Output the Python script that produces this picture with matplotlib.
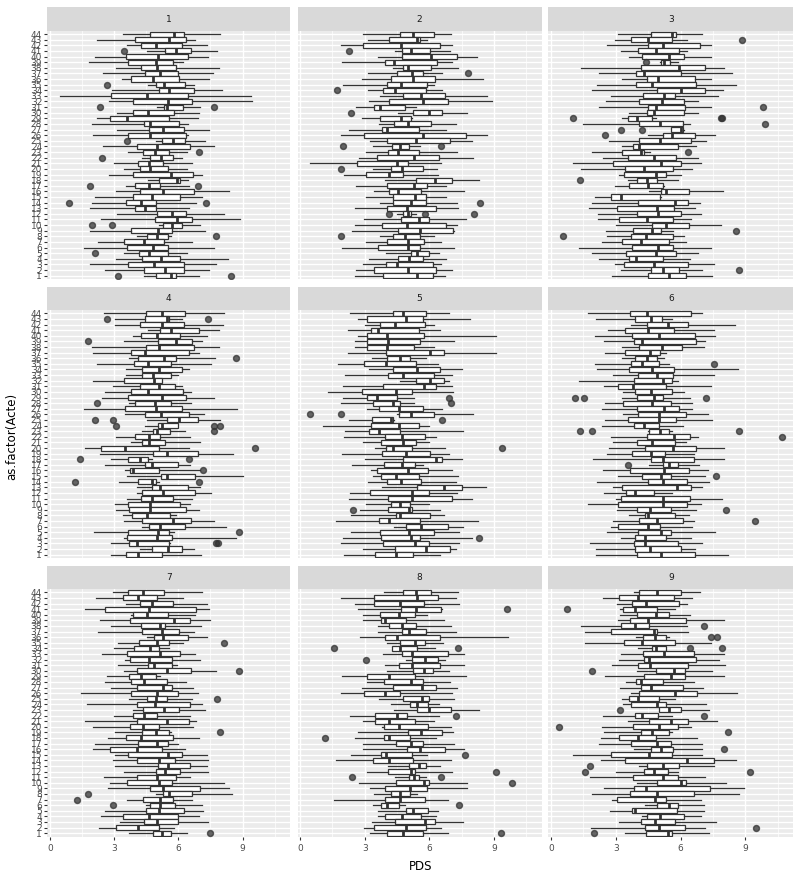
import matplotlib
matplotlib.use("Agg")
import matplotlib.pyplot as plt

# rows in every *_stats list go from Acte 44 (top) down to Acte 1 (bottom)
actes = list(range(44, 0, -1))

# (whisker low, q1, median, q3, whisker high)
p1_stats = [
    (3.4, 4.7, 5.8, 6.25, 7.95), (2.2, 4.0, 5.55, 6.35, 6.8), (3.6, 4.25, 4.95, 6.15, 7.35),
    (4.55, 5.4, 5.9, 6.6, 7.8), (2.1, 3.55, 5.05, 6.45, 7.4), (1.85, 3.65, 4.95, 5.75, 6.2),
    (3.1, 4.25, 5.0, 5.9, 7.9), (2.5, 4.45, 5.15, 6.0, 7.6), (3.35, 3.8, 4.8, 6.05, 7.45),
    (4.6, 4.95, 5.35, 6.3, 6.75), (2.9, 5.1, 5.55, 6.75, 8.05), (0.5, 2.85, 4.55, 6.45, 9.4),
    (2.75, 3.9, 5.5, 6.65, 9.45), (5.0, 5.35, 5.45, 6.2, 7.0), (3.15, 3.9, 4.6, 5.8, 6.95),
    (2.2, 2.8, 3.6, 5.55, 6.9), (1.95, 4.4, 4.7, 6.05, 6.45), (3.15, 4.65, 5.3, 6.25, 7.45),
    (2.0, 3.65, 4.7, 6.35, 6.45), (4.95, 5.25, 5.75, 6.3, 7.25), (2.5, 4.05, 5.0, 6.55, 7.65),
    (3.65, 4.35, 4.9, 5.55, 6.4), (4.3, 4.7, 5.2, 5.75, 6.15), (3.0, 4.1, 4.65, 5.3, 6.65),
    (3.45, 4.2, 4.7, 5.5, 6.4), (2.75, 3.9, 5.65, 6.7, 7.1), (4.6, 5.1, 5.95, 6.1, 6.45),
    (3.55, 4.0, 4.65, 5.15, 6.5), (3.1, 4.2, 5.3, 6.75, 8.35), (2.1, 3.9, 4.75, 6.1, 7.1),
    (1.95, 3.55, 4.25, 4.95, 6.85), (1.9, 4.0, 4.45, 4.95, 6.5), (3.15, 5.0, 5.7, 6.35, 8.15),
    (2.4, 4.9, 5.95, 6.65, 8.9), (5.1, 5.3, 5.7, 6.15, 7.0), (1.9, 3.8, 5.05, 5.7, 7.25),
    (4.05, 4.55, 5.0, 5.5, 5.65), (2.25, 3.45, 4.4, 5.35, 6.65), (1.6, 3.6, 4.8, 5.5, 7.65),
    (3.45, 4.15, 4.65, 5.5, 6.4), (3.1, 4.3, 5.2, 6.1, 8.3), (1.9, 3.65, 4.85, 6.25, 7.75),
    (2.6, 4.4, 5.4, 6.25, 7.45), (4.4, 4.95, 5.65, 5.9, 6.95),
]
p1_out = [(41, 3.45), (35, 2.65), (31, 2.35), (31, 7.65), (25, 3.6), (23, 6.95), (22, 2.45),
          (17, 1.9), (17, 6.9), (14, 0.9), (14, 7.3), (10, 1.95), (10, 2.9), (8, 7.75),
          (5, 2.1), (1, 3.2), (1, 8.45)]

p2_stats = [
    (2.9, 4.65, 5.25, 6.2, 7.0), (3.15, 4.15, 5.45, 5.55, 5.9), (1.9, 2.9, 4.7, 6.5, 7.05),
    (4.4, 4.75, 5.15, 6.05, 6.95), (3.6, 4.75, 6.1, 7.3, 8.2), (1.95, 3.95, 4.35, 6.35, 7.05),
    (4.3, 4.8, 5.0, 6.1, 7.35), (3.15, 4.5, 5.2, 5.7, 6.6), (2.85, 4.2, 5.25, 6.25, 8.5),
    (2.0, 4.05, 4.7, 5.9, 6.2), (3.15, 3.85, 4.4, 5.85, 6.6), (3.7, 4.8, 5.6, 6.75, 8.7),
    (3.2, 4.15, 5.7, 6.85, 8.9), (2.6, 3.45, 3.7, 4.85, 5.4), (4.55, 5.25, 6.0, 6.6, 7.75),
    (2.85, 3.7, 4.7, 5.15, 5.2), (3.65, 4.35, 5.0, 6.1, 7.25), (2.25, 3.8, 4.05, 5.5, 6.8),
    (1.9, 2.95, 5.7, 7.7, 8.7), (3.25, 4.05, 5.4, 6.95, 8.0), (3.4, 4.25, 4.65, 5.05, 5.55),
    (3.05, 4.1, 4.55, 5.5, 7.3), (2.75, 3.55, 5.3, 6.45, 8.05), (0.45, 2.65, 4.5, 5.0, 6.55),
    (3.4, 4.2, 4.75, 5.7, 6.35), (2.05, 3.05, 4.15, 4.8, 6.4), (3.95, 5.4, 6.25, 7.05, 8.3),
    (2.6, 4.05, 5.3, 5.9, 6.8), (3.45, 4.15, 4.55, 5.6, 7.6), (3.05, 4.3, 5.35, 5.85, 6.8),
    (3.7, 4.3, 5.15, 5.85, 7.3), (2.55, 4.05, 4.95, 6.3, 7.35), (4.5, 4.8, 5.0, 5.15, 5.4),
    (2.95, 4.7, 5.5, 6.0, 7.7), (2.55, 3.8, 4.95, 6.8, 7.3), (2.4, 4.55, 5.55, 7.1, 7.15),
    (3.7, 4.3, 4.85, 5.55, 6.2), (3.05, 4.05, 5.0, 5.75, 6.55), (1.95, 3.6, 5.0, 5.55, 7.15),
    (4.0, 5.15, 5.45, 6.0, 6.45), (3.2, 4.55, 5.05, 5.7, 6.8), (2.9, 4.0, 4.5, 6.15, 6.55),
    (2.6, 3.45, 5.0, 6.3, 7.05), (2.55, 3.85, 5.45, 6.15, 6.75),
]
p2_out = [(41, 2.25), (37, 7.8), (34, 1.7), (30, 2.35), (24, 2.0), (24, 6.55), (20, 1.9),
          (14, 8.35), (12, 4.15), (12, 5.8), (12, 8.1), (8, 1.9)]

p3_stats = [
    (3.1, 4.65, 5.6, 5.8, 7.0), (2.95, 3.7, 4.5, 5.6, 6.3), (2.6, 4.5, 5.2, 6.9, 7.4),
    (3.25, 4.05, 4.85, 5.95, 6.3), (3.6, 4.2, 5.45, 6.15, 7.4), (5.05, 5.1, 5.25, 5.5, 5.9),
    (1.4, 4.15, 5.95, 7.15, 8.0), (2.25, 3.95, 4.3, 6.0, 8.4), (3.3, 4.45, 4.95, 6.65, 7.4),
    (2.15, 3.95, 4.7, 6.7, 8.55), (1.9, 4.9, 6.0, 7.15, 7.95), (2.8, 4.25, 5.25, 5.75, 7.75),
    (2.55, 4.1, 5.15, 6.15, 6.8), (2.25, 4.5, 4.85, 6.2, 7.4), (3.6, 4.45, 4.75, 6.15, 6.8),
    (3.3, 3.55, 4.0, 4.7, 4.85), (1.5, 4.1, 5.05, 6.1, 6.45), (5.55, 5.55, 6.0, 6.1, 6.15),
    (4.5, 5.2, 5.6, 6.65, 7.6), (2.7, 4.1, 5.05, 6.5, 7.2), (3.3, 3.8, 4.1, 5.9, 6.7),
    (1.9, 3.3, 4.15, 4.3, 4.6), (2.4, 3.55, 4.75, 5.8, 6.8), (1.05, 2.9, 5.1, 6.0, 6.95),
    (1.4, 3.45, 4.3, 5.65, 6.55), (3.15, 3.4, 4.85, 5.35, 6.0), (3.55, 4.0, 4.45, 4.9, 5.9),
    (2.95, 3.6, 4.5, 5.2, 5.25), (4.55, 5.1, 5.35, 6.4, 7.95), (2.05, 2.8, 3.25, 5.05, 5.1),
    (1.9, 4.05, 5.75, 6.35, 6.9), (1.75, 3.05, 4.9, 5.7, 6.65), (2.2, 4.0, 4.95, 6.0, 6.95),
    (2.2, 3.15, 4.45, 5.65, 6.5), (3.0, 4.7, 5.35, 6.4, 7.85), (2.55, 3.8, 4.7, 5.1, 5.65),
    (2.6, 3.7, 4.4, 5.65, 6.15), (2.35, 3.3, 4.15, 5.45, 6.25), (1.3, 3.75, 4.95, 5.65, 7.4),
    (1.9, 3.5, 4.85, 5.8, 6.8), (2.25, 3.6, 3.95, 5.2, 6.45), (2.95, 3.4, 4.75, 6.35, 7.55),
    (3.25, 4.65, 5.2, 5.95, 7.0), (2.85, 4.5, 5.45, 6.25, 7.45),
]
p3_out = [(43, 8.85), (39, 4.4), (31, 9.8), (29, 1.05), (29, 7.85), (29, 7.9), (28, 9.9),
          (27, 3.25), (27, 4.2), (26, 2.5), (23, 6.35), (18, 1.35), (9, 8.55), (8, 0.55),
          (2, 8.7)]

p4_stats = [
    (2.55, 4.5, 5.25, 6.3, 8.15), (3.05, 4.45, 5.45, 5.55, 6.15), (3.05, 4.2, 5.25, 6.25, 8.1),
    (4.6, 5.15, 5.65, 6.95, 7.9), (3.9, 4.25, 5.0, 6.1, 7.35), (3.45, 5.05, 5.9, 6.65, 7.1),
    (1.95, 4.5, 5.1, 6.75, 7.9), (2.0, 3.8, 4.45, 6.5, 6.95), (3.7, 4.1, 5.35, 5.9, 7.7),
    (2.2, 3.95, 4.6, 5.65, 7.55), (3.55, 4.3, 5.1, 6.15, 6.5), (3.55, 4.3, 4.8, 5.65, 6.0),
    (2.0, 3.45, 4.85, 5.25, 5.25), (2.95, 4.2, 5.1, 5.85, 6.15), (2.6, 3.8, 4.6, 6.2, 6.6),
    (2.45, 3.65, 5.25, 6.35, 7.65), (3.7, 4.0, 4.9, 5.65, 6.6), (1.6, 3.5, 4.95, 6.15, 8.75),
    (3.5, 4.45, 5.2, 6.5, 7.2), (4.55, 5.45, 6.05, 6.9, 7.95), (4.45, 5.05, 5.25, 6.0, 6.0),
    (4.3, 4.8, 5.0, 5.6, 6.3), (3.1, 4.0, 4.65, 5.15, 6.55), (3.8, 4.3, 4.65, 5.4, 7.0),
    (1.65, 2.4, 3.5, 5.1, 6.5), (2.35, 4.8, 5.45, 6.9, 8.55), (2.85, 3.65, 4.2, 4.6, 4.75),
    (2.6, 4.45, 4.75, 6.0, 6.55), (3.5, 3.75, 3.9, 5.1, 7.0), (3.6, 5.2, 5.45, 6.8, 9.0),
    (3.25, 4.1, 4.75, 4.95, 5.1), (4.05, 4.75, 5.15, 6.45, 7.0), (4.05, 4.3, 5.3, 6.8, 7.55),
    (3.6, 4.25, 4.75, 5.75, 6.65), (3.05, 3.65, 4.7, 6.1, 6.55), (3.1, 3.7, 4.7, 6.35, 6.95),
    (3.4, 3.85, 4.55, 5.6, 5.9), (3.45, 4.3, 5.75, 6.6, 7.65), (4.3, 4.65, 5.15, 6.3, 8.25),
    (2.05, 3.65, 5.05, 5.55, 5.8), (3.45, 3.6, 5.0, 5.7, 8.7), (2.85, 3.7, 4.05, 5.55, 5.6),
    (4.2, 4.75, 5.5, 6.15, 6.75), (2.85, 3.55, 4.1, 5.25, 7.05),
]
p4_out = [(43, 2.65), (43, 7.4), (39, 1.8), (36, 8.7), (28, 2.2), (25, 2.1), (25, 2.95),
          (24, 3.1), (24, 7.65), (24, 7.95), (23, 7.65), (20, 9.6), (18, 1.4), (18, 6.5),
          (16, 7.15), (14, 1.2), (14, 6.95), (5, 8.85), (3, 7.75), (3, 7.85)]

p5_stats = [
    (2.3, 4.3, 4.8, 5.85, 6.9), (2.7, 3.1, 4.9, 5.7, 7.9), (3.0, 3.7, 4.4, 5.8, 6.2),
    (2.2, 3.3, 3.6, 5.5, 6.5), (2.7, 3.1, 4.05, 5.75, 9.1), (2.55, 3.1, 4.1, 5.55, 7.15),
    (2.55, 3.1, 4.05, 5.3, 6.2), (2.2, 4.0, 6.05, 6.7, 9.1), (3.35, 4.05, 4.65, 5.1, 5.85),
    (1.75, 2.95, 4.0, 5.4, 6.4), (3.2, 4.3, 5.45, 6.5, 7.5), (2.1, 4.1, 4.8, 6.2, 7.05),
    (4.65, 5.4, 6.05, 6.7, 6.9), (2.0, 3.85, 5.75, 6.3, 7.05), (1.3, 2.85, 4.45, 5.2, 7.1),
    (2.0, 3.1, 3.55, 4.5, 5.3), (1.9, 3.4, 4.3, 4.65, 5.3), (3.1, 3.65, 4.6, 5.7, 6.6),
    (4.5, 4.6, 5.15, 6.2, 8.05), (2.25, 3.35, 4.2, 4.3, 4.35), (1.05, 3.3, 4.6, 5.5, 6.0),
    (2.1, 3.2, 3.65, 4.65, 7.55), (2.05, 3.95, 4.75, 5.8, 6.3), (2.9, 3.75, 4.8, 5.4, 6.0),
    (3.5, 4.0, 4.3, 5.2, 6.75), (1.95, 3.8, 4.9, 6.05, 6.9), (3.0, 4.8, 6.3, 6.6, 7.5),
    (2.4, 3.9, 4.75, 5.35, 5.7), (3.3, 3.55, 5.0, 5.95, 7.05), (3.4, 3.75, 4.45, 5.5, 7.35),
    (3.15, 4.05, 4.7, 5.6, 7.25), (3.8, 5.45, 6.7, 7.5, 8.65), (2.3, 3.25, 5.2, 6.0, 7.3),
    (2.25, 4.1, 5.2, 7.05, 8.0), (3.05, 4.2, 4.65, 5.1, 6.0), (2.8, 4.1, 5.05, 5.2, 6.5),
    (2.35, 4.45, 4.65, 6.05, 6.7), (1.65, 3.65, 4.15, 5.55, 8.25), (4.35, 4.9, 5.6, 6.85, 7.55),
    (2.35, 3.7, 5.05, 6.2, 7.4), (2.0, 3.75, 5.15, 5.55, 8.0), (1.9, 3.85, 5.35, 6.0, 7.4),
    (2.9, 4.4, 5.85, 6.95, 7.25), (2.05, 3.5, 4.45, 5.25, 6.5),
]
p5_out = [(29, 6.9), (28, 7.0), (26, 0.45), (26, 1.9), (25, 6.6), (20, 9.4), (9, 2.45),
          (4, 8.3)]

p6_stats = [
    (1.7, 3.65, 4.45, 6.5, 7.0), (2.1, 3.9, 4.65, 5.15, 5.6), (3.7, 4.45, 5.4, 6.35, 8.5),
    (2.65, 3.45, 4.5, 5.7, 7.55), (2.05, 3.75, 5.0, 6.65, 7.6), (2.45, 3.85, 4.2, 6.7, 7.15),
    (3.3, 4.1, 5.15, 6.05, 7.1), (2.5, 3.45, 4.6, 5.05, 5.35), (3.3, 3.9, 4.45, 4.9, 5.25),
    (2.05, 3.7, 4.2, 5.0, 5.45), (2.15, 3.6, 4.7, 5.7, 8.65), (2.9, 4.05, 4.9, 5.65, 7.55),
    (1.3, 3.85, 5.2, 5.6, 5.9), (2.45, 3.1, 3.8, 5.35, 7.4), (3.35, 3.9, 4.65, 5.6, 6.15),
    (3.3, 4.0, 4.75, 5.2, 6.45), (2.5, 3.35, 4.7, 5.55, 6.55), (2.35, 4.0, 5.25, 5.95, 6.55),
    (3.35, 4.05, 5.0, 6.25, 7.25), (2.5, 3.55, 5.0, 5.8, 7.45), (2.35, 3.85, 4.3, 5.0, 6.1),
    (4.5, 4.55, 5.05, 5.45, 5.6), (2.8, 4.45, 5.7, 6.45, 6.8), (2.9, 4.0, 4.7, 5.75, 6.25),
    (2.7, 4.35, 5.65, 6.7, 8.0), (2.6, 3.75, 4.65, 5.3, 6.6), (1.95, 4.65, 5.2, 6.6, 8.0),
    (4.55, 5.2, 5.45, 5.9, 6.85), (2.4, 3.65, 5.25, 6.4, 7.25), (3.1, 4.2, 5.1, 5.55, 7.15),
    (2.15, 4.5, 5.2, 6.3, 7.3), (2.9, 3.3, 5.85, 6.5, 7.0), (2.45, 3.5, 3.9, 4.75, 5.6),
    (3.0, 3.25, 5.2, 6.45, 7.9), (1.7, 3.1, 5.2, 6.3, 6.95), (3.05, 4.0, 4.6, 5.55, 6.7),
    (3.6, 4.35, 4.5, 5.75, 6.4), (2.9, 4.1, 4.9, 6.1, 6.6), (2.8, 3.1, 4.5, 5.05, 6.55),
    (2.6, 4.05, 5.1, 5.55, 7.6), (3.25, 3.9, 4.35, 5.35, 6.5), (1.8, 3.85, 4.35, 5.9, 7.0),
    (2.1, 3.9, 4.6, 6.0, 6.65), (2.1, 4.0, 5.1, 6.65, 8.2),
]
p6_out = [(35, 7.55), (29, 1.1), (29, 1.55), (29, 7.2), (23, 1.35), (23, 1.9), (23, 8.7),
          (22, 10.7), (17, 3.55), (15, 7.65), (9, 8.1), (7, 9.45)]

p7_stats = [
    (2.95, 3.65, 4.35, 5.35, 7.1), (2.15, 3.4, 4.1, 5.0, 6.2), (3.55, 4.2, 4.75, 5.75, 7.35),
    (1.65, 2.6, 4.65, 6.85, 7.45), (3.8, 3.9, 4.55, 5.5, 6.8), (2.35, 3.75, 5.8, 6.55, 7.5),
    (2.85, 4.25, 5.15, 5.4, 7.05), (2.25, 4.3, 5.25, 6.05, 6.75), (4.55, 4.85, 5.3, 6.45, 7.35),
    (3.2, 4.15, 5.0, 5.55, 6.2), (3.0, 3.95, 4.7, 5.1, 5.55), (2.45, 3.6, 5.15, 6.1, 6.8),
    (3.5, 3.75, 4.65, 5.7, 7.0), (3.2, 4.6, 4.85, 5.7, 5.95), (3.45, 4.05, 5.45, 6.6, 7.75),
    (2.65, 3.7, 4.25, 4.95, 5.15), (2.6, 3.8, 4.4, 5.45, 6.35), (2.85, 4.05, 5.3, 5.7, 6.7),
    (1.45, 3.8, 5.0, 6.0, 6.9), (3.7, 4.55, 4.95, 5.45, 6.65), (1.75, 4.05, 4.9, 6.55, 7.1),
    (3.9, 4.35, 5.35, 6.05, 7.25), (3.0, 3.9, 4.4, 5.0, 6.55), (1.65, 4.05, 5.45, 6.5, 6.85),
    (2.0, 3.75, 4.35, 5.1, 6.7), (3.05, 4.3, 4.95, 5.55, 5.65), (2.7, 3.55, 4.25, 5.75, 6.95),
    (2.1, 4.1, 5.0, 5.5, 6.0), (2.0, 2.8, 4.05, 5.25, 6.3), (3.05, 3.65, 5.5, 6.15, 7.35),
    (2.95, 4.05, 5.1, 5.85, 7.4), (3.05, 5.05, 5.5, 6.55, 7.35), (3.45, 4.95, 5.4, 6.1, 7.4),
    (2.55, 4.05, 5.0, 5.9, 6.55), (2.8, 3.6, 5.1, 5.7, 8.15), (2.7, 4.7, 5.3, 7.0, 8.35),
    (4.95, 5.3, 5.55, 6.65, 8.5), (3.6, 4.35, 5.15, 5.75, 6.65), (4.5, 4.7, 5.15, 5.85, 7.1),
    (2.6, 4.5, 5.1, 6.25, 7.15), (2.4, 3.4, 4.65, 6.0, 6.95), (3.3, 4.4, 5.0, 6.0, 7.4),
    (2.3, 3.1, 4.1, 5.1, 5.8), (3.7, 4.8, 5.25, 5.65, 6.4),
]
p7_out = [(35, 8.15), (30, 8.85), (25, 7.8), (19, 7.95), (8, 1.8), (7, 1.25), (6, 2.95),
          (1, 7.5)]

p8_stats = [
    (3.9, 4.8, 5.4, 6.1, 7.35), (1.9, 3.45, 5.45, 6.4, 7.25), (2.55, 3.45, 4.65, 5.75, 7.4),
    (2.7, 4.7, 5.4, 6.55, 6.6), (2.9, 3.7, 4.6, 5.35, 5.9), (2.9, 3.75, 3.95, 4.9, 6.7),
    (3.6, 4.15, 4.75, 5.4, 7.0), (3.6, 4.75, 5.05, 5.85, 7.25), (2.8, 3.95, 4.5, 6.5, 9.65),
    (4.05, 4.65, 5.35, 5.8, 6.65), (4.25, 4.25, 4.65, 5.45, 6.25), (3.85, 4.75, 5.2, 6.85, 7.6),
    (4.9, 5.2, 5.8, 6.4, 6.75), (3.95, 4.6, 5.2, 6.5, 7.6), (4.05, 5.25, 5.75, 6.15, 6.9),
    (1.95, 3.1, 4.15, 5.35, 7.7), (3.1, 3.9, 5.15, 5.7, 6.95), (2.85, 4.3, 5.65, 6.3, 7.3),
    (1.9, 2.95, 3.95, 4.65, 7.05), (3.65, 4.8, 5.65, 6.0, 7.15), (4.2, 5.1, 5.45, 5.95, 6.45),
    (4.35, 5.45, 6.0, 7.0, 8.3), (2.3, 3.5, 4.5, 4.95, 6.45), (2.9, 3.5, 4.15, 5.35, 6.2),
    (3.8, 3.9, 4.6, 5.95, 7.0), (2.7, 5.0, 5.6, 6.6, 7.1), (2.55, 3.9, 4.15, 5.1, 6.3),
    (2.9, 4.45, 5.15, 5.7, 7.15), (2.9, 4.95, 5.55, 6.75, 7.6), (2.35, 3.75, 4.0, 5.2, 5.9),
    (1.65, 3.4, 4.15, 5.25, 7.0), (4.1, 5.05, 5.5, 5.85, 6.5), (3.1, 4.1, 5.15, 5.35, 7.05),
    (4.4, 5.05, 5.3, 5.5, 5.85), (2.75, 4.45, 5.75, 6.0, 7.75), (3.25, 3.95, 5.1, 5.9, 7.75),
    (3.45, 4.2, 4.65, 5.1, 5.45), (1.55, 3.95, 4.65, 5.8, 6.85), (3.4, 3.75, 4.05, 4.6, 4.85),
    (3.6, 4.9, 5.25, 5.95, 6.4), (3.6, 3.95, 4.75, 5.6, 6.3), (3.35, 4.4, 5.8, 6.25, 7.55),
    (2.95, 3.45, 4.9, 5.85, 6.55), (3.25, 4.05, 4.8, 5.7, 6.85),
]
p8_out = [(41, 9.6), (34, 1.55), (34, 7.35), (32, 3.05), (22, 7.25), (18, 1.15), (15, 7.65),
          (12, 9.1), (11, 2.4), (11, 6.55), (10, 9.85), (6, 7.4), (1, 9.35)]

p9_stats = [
    (3.85, 4.1, 4.9, 6.0, 6.9), (2.4, 3.15, 4.05, 5.7, 6.55), (3.05, 3.75, 4.4, 5.95, 6.3),
    (3.2, 3.35, 3.9, 4.9, 5.75), (3.2, 4.0, 4.85, 5.45, 6.45), (3.1, 3.65, 4.5, 6.25, 8.0),
    (1.4, 3.25, 3.9, 4.55, 6.3), (1.6, 2.8, 4.75, 4.9, 6.35), (3.95, 4.25, 4.8, 5.35, 5.45),
    (1.6, 3.4, 4.2, 5.75, 7.4), (4.05, 4.7, 4.85, 5.35, 5.35), (3.25, 4.25, 5.25, 6.6, 8.0),
    (3.15, 4.3, 4.55, 6.7, 7.8), (2.85, 4.05, 4.6, 6.35, 8.05), (4.0, 4.85, 5.7, 6.2, 7.45),
    (2.5, 4.3, 5.55, 6.2, 8.0), (3.5, 3.95, 4.15, 5.2, 6.6), (3.2, 4.15, 4.65, 6.1, 7.05),
    (3.7, 4.1, 5.75, 6.75, 8.6), (3.3, 3.6, 4.05, 5.0, 5.75), (3.35, 3.7, 4.9, 5.35, 7.2),
    (5.0, 5.0, 5.45, 6.0, 7.3), (2.4, 3.9, 4.2, 4.95, 5.6), (3.55, 4.55, 5.55, 6.35, 7.7),
    (2.35, 3.8, 5.0, 5.9, 6.5), (2.45, 4.15, 4.7, 5.45, 5.6), (2.3, 3.15, 4.05, 4.85, 6.75),
    (2.25, 3.7, 4.9, 5.55, 7.0), (3.85, 4.65, 5.1, 5.65, 7.0), (1.05, 2.8, 4.55, 5.6, 7.0),
    (2.3, 3.45, 6.3, 7.55, 8.55), (4.1, 4.45, 5.2, 5.95, 7.55), (3.0, 4.3, 4.75, 5.4, 5.9),
    (1.8, 3.8, 5.2, 5.9, 7.15), (4.0, 4.9, 6.0, 6.25, 8.1), (2.45, 3.85, 4.4, 7.35, 8.95),
    (1.9, 3.65, 4.9, 6.6, 8.7), (2.85, 3.05, 4.8, 5.35, 6.95), (4.35, 4.9, 5.45, 5.9, 7.1),
    (2.75, 3.75, 3.9, 5.85, 7.1), (4.2, 4.45, 5.05, 6.15, 6.95), (3.15, 4.15, 4.8, 5.75, 7.65),
    (1.85, 4.35, 5.0, 6.2, 7.15), (3.45, 4.4, 5.4, 5.6, 7.3),
]
p9_out = [(41, 0.75), (38, 7.1), (36, 7.4), (36, 7.7), (34, 6.45), (34, 7.9), (30, 1.9),
          (23, 3.2), (22, 7.1), (20, 0.4), (19, 8.2), (16, 8.0), (13, 1.8), (12, 1.6),
          (12, 9.2), (2, 9.5), (1, 2.0)]

panel_names = ["1", "2", "3", "4", "5", "6", "7", "8", "9"]
panels = [(p1_stats, p1_out), (p2_stats, p2_out), (p3_stats, p3_out),
          (p4_stats, p4_out), (p5_stats, p5_out), (p6_stats, p6_out),
          (p7_stats, p7_out), (p8_stats, p8_out), (p9_stats, p9_out)]

W, H = 800, 882
fig = plt.figure(figsize=(W / 100, H / 100), dpi=100)

# panel edges in pixels (left, right) / (top, bottom)
col_x = [(47.3, 290.0), (297.7, 541.5), (548.3, 793.3)]
row_y = [(30.7, 279.0), (310.0, 558.0), (589.0, 836.5)]
strip_h = 23.4

# shared x range, ggplot style 5% expansion
vals = [v for st, out in panels for s in st for v in s] + \
       [v for st, out in panels for a, v in out]
vmin, vmax = min(vals), max(vals)
pad = 0.05 * (vmax - vmin)
xlim = (vmin - pad, vmax + pad)

ink = "#333333"

for i, (stats, outs) in enumerate(panels):
    r, c = divmod(i, 3)
    x0, x1 = col_x[c]
    y0, y1 = row_y[r]
    ax = fig.add_axes([x0 / W, 1 - y1 / H, (x1 - x0) / W, (y1 - y0) / H])
    ax.set_facecolor("#EBEBEB")
    for sp in ax.spines.values():
        sp.set_visible(False)

    bstats = []
    for acte, s in zip(actes, stats):
        bstats.append({"whislo": s[0], "q1": s[1], "med": s[2], "q3": s[3],
                       "whishi": s[4],
                       "fliers": [v for a, v in outs if a == acte]})
    ax.bxp(bstats, positions=actes, widths=0.9, orientation="horizontal",
           patch_artist=True, showcaps=False,
           boxprops=dict(facecolor="white", edgecolor=ink, linewidth=0.9),
           whiskerprops=dict(color=ink, linewidth=0.9),
           medianprops=dict(color=ink, linewidth=2.0, solid_capstyle="butt"),
           flierprops=dict(marker="o", markersize=4.3, markerfacecolor=ink,
                           markeredgecolor=ink, alpha=0.75, linestyle="none"))

    ax.set_xlim(*xlim)
    ax.set_ylim(0.4, 44.6)
    ax.set_xticks([0, 3, 6, 9])
    ax.set_xticks([1.5, 4.5, 7.5, 10.5], minor=True)
    ax.set_yticks(range(1, 45))
    ax.set_yticklabels([str(k) for k in range(1, 45)])
    ax.set_axisbelow(True)
    ax.grid(which="major", color="white", linewidth=1.0)
    ax.grid(which="minor", axis="x", color="white", linewidth=0.5)
    ax.tick_params(which="minor", length=0)
    ax.tick_params(which="major", labelsize=6.5, color=ink, labelcolor="#4D4D4D",
                   length=2.2, width=0.8, pad=1.5)
    ax.tick_params(axis="x", pad=3)
    if c != 0:
        ax.tick_params(axis="y", left=False, labelleft=False)
    if r != 2:
        ax.tick_params(axis="x", bottom=False, labelbottom=False)

    sax = fig.add_axes([x0 / W, 1 - y0 / H, (x1 - x0) / W, strip_h / H])
    sax.set_facecolor("#D9D9D9")
    sax.set_xticks([])
    sax.set_yticks([])
    for sp in sax.spines.values():
        sp.set_visible(False)
    sax.text(0.5, 0.5, panel_names[i], ha="center", va="center",
             fontsize=6.5, color="#1A1A1A", transform=sax.transAxes)

fig.text(420.3 / W, 1 - 866 / H, "PDS", ha="center", va="center", fontsize=8.5)
fig.text(12 / W, 1 - 436 / H, "as.factor(Acte)", ha="center", va="center",
         rotation=90, fontsize=8.5)

fig.savefig("out.png", dpi=100)
